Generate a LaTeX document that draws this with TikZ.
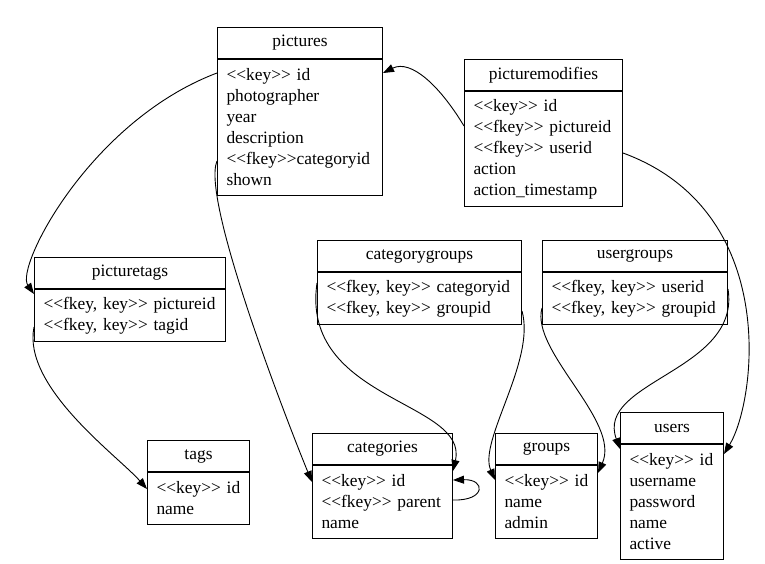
\documentclass[tikz,border=0pt]{standalone}
\usepackage{fontspec}
\newfontfamily\erfont{Liberation Serif}
\usetikzlibrary{arrows.meta}

\tikzset{
  tablehead/.style={draw, line width=1pt, anchor=north west, minimum height=31pt, inner sep=0pt, font=\erfont\fontsize{17.4}{21}\selectfont},
  tablebody/.style={draw, line width=1pt, anchor=north west, align=left, inner xsep=9pt, inner ysep=0pt, font=\erfont\fontsize{17.4}{21}\selectfont},
  fkey/.style={line width=0.9pt, -{Triangle[length=11pt,width=8pt]}}
}

\begin{document}
\begin{tikzpicture}[x=1pt,y=-1pt]
                \useasboundingbox (0,0) rectangle (765,563);
                \node[tablehead, minimum width=165pt] (pictures) at (217,27) {pictures};
                \node[tablebody, text width=147pt, minimum height=136pt] (pictures-f) at (pictures.south west) {<<key>>~id\\photographer\\year\\description\\<<fkey>>categoryid\\shown};
                \node[tablehead, minimum width=158pt] (picturemodifies) at (464,59) {picturemodifies};
                \node[tablebody, text width=140pt, minimum height=115pt] (picturemodifies-f) at (picturemodifies.south west) {<<key>>~id\\<<fkey>>~pictureid\\<<fkey>>~userid\\action\\action\_timestamp};
                \node[tablehead, minimum width=204pt] (categorygroups) at (317,240) {categorygroups};
                \node[tablebody, text width=186pt, minimum height=52pt] (categorygroups-f) at (categorygroups.south west) {<<fkey,~key>>~categoryid\\<<fkey,~key>>~groupid};
                \node[tablehead, minimum width=185pt] (usergroups) at (542,240) {usergroups};
                \node[tablebody, text width=167pt, minimum height=52pt] (usergroups-f) at (usergroups.south west) {<<fkey,~key>>~userid\\<<fkey,~key>>~groupid};
                \node[tablehead, minimum width=191pt] (picturetags) at (34,257) {picturetags};
                \node[tablebody, text width=173pt, minimum height=52pt] (picturetags-f) at (picturetags.south west) {<<fkey,~key>>~pictureid\\<<fkey,~key>>~tagid};
                \node[tablehead, minimum width=102pt] (tags) at (147,440) {tags};
                \node[tablebody, text width=84pt, minimum height=52pt] (tags-f) at (tags.south west) {<<key>>~id\\name};
                \node[tablehead, minimum width=140pt] (categories) at (312,433) {categories};
                \node[tablebody, text width=122pt, minimum height=73pt] (categories-f) at (categories.south west) {<<key>>~id\\<<fkey>>~parent\\name};
                \node[tablehead, minimum width=102pt] (groups) at (495,433) {groups};
                \node[tablebody, text width=84pt, minimum height=73pt] (groups-f) at (groups.south west) {<<key>>~id\\name\\admin};
                \node[tablehead, minimum width=103pt] (users) at (620,412) {users};
                \node[tablebody, text width=85pt, minimum height=115pt] (users-f) at (users.south west) {<<key>>~id\\username\\password\\name\\active};
                % foreign keys
                \draw[fkey] ([yshift=-35pt]picturemodifies-f.north west) .. controls +(-24,-40) and +(28,-14) .. ([yshift=-14pt]pictures-f.north east);
                \draw[fkey] ([yshift=-14pt]pictures-f.north west) .. controls +(-127,48) and +(-19,-27) .. ([yshift=-5pt]picturetags-f.north west);
                \draw[fkey] ([yshift=-102pt]pictures-f.north west) .. controls +(-17,40) and +(-17,-41) .. ([yshift=-17pt]categories-f.north west);
                \draw[fkey] ([yshift=-38pt]picturetags-f.north west) .. controls +(-12,60) and +(-29,-33) .. ([yshift=-17pt]tags-f.north west);
                \draw[fkey] ([yshift=-11pt]categorygroups-f.north west) .. controls +(-17,118) and +(16,-70) .. ([yshift=-6pt]categories-f.north east);
                \draw[fkey] ([yshift=-39pt]categorygroups-f.north east) .. controls +(14,50) and +(-17,-39) .. ([yshift=-15pt]groups-f.north west);
                \draw[fkey] ([yshift=-36pt]usergroups-f.north west) .. controls +(-12,43) and +(23,-52) .. ([yshift=-8pt]groups-f.north east);
                \draw[fkey] ([yshift=-17pt]usergroups-f.north east) .. controls +(13,82) and +(-25,-68) .. ([yshift=-5pt]users-f.north west);
                \draw[fkey] ([yshift=-62pt]picturemodifies-f.north east) .. controls +(158,58) and +(32,-53) .. ([yshift=-10pt]users-f.north east);
                \draw[fkey] ([yshift=-35pt]categories-f.north east) .. controls +(33,1) and +(33,-1) .. ([yshift=-15pt]categories-f.north east);
            \end{tikzpicture}
\end{document}
